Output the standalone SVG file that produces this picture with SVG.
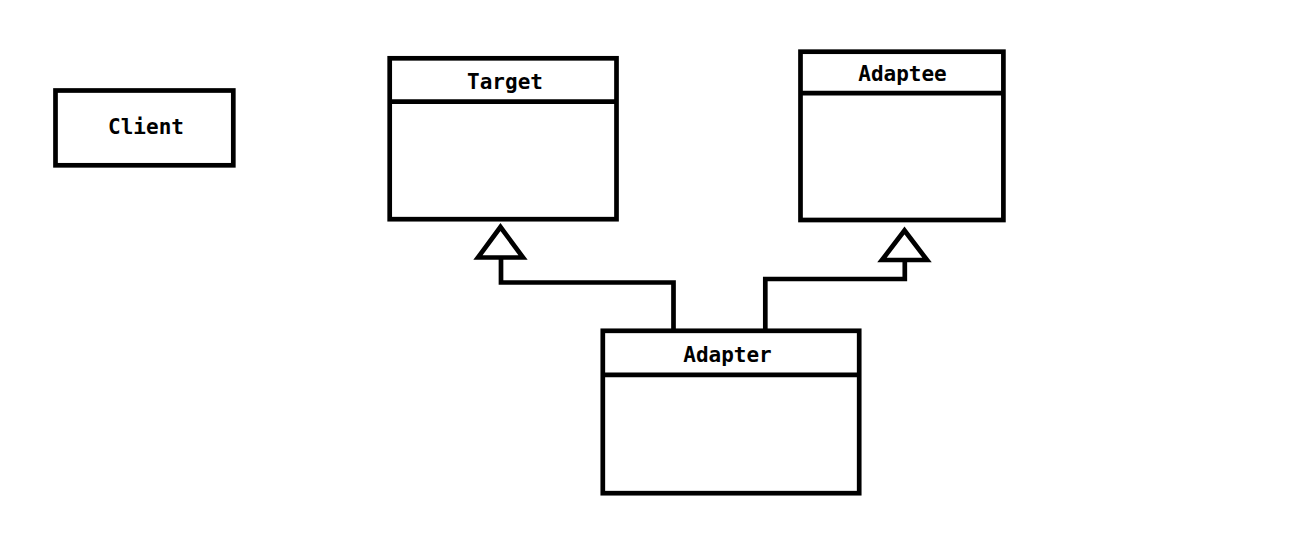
<svg xmlns="http://www.w3.org/2000/svg" width="1310" height="533" viewBox="0 0 1310 533">
<style>
.box{fill:#fff;stroke:#000;stroke-width:4.7}
.div{stroke:#000;stroke-width:4.7}
.lbl{font-family:"DejaVu Sans Mono","Liberation Mono",monospace;font-weight:bold;font-size:21px;text-anchor:middle;fill:#000}
.conn{fill:none;stroke:#000;stroke-width:4.7;stroke-linejoin:miter}
.tri{fill:#fff;stroke:#000;stroke-width:4.7;stroke-linejoin:miter}
</style>
<rect width="1310" height="533" fill="#fff"/>
<g id="client">
<rect class="box" x="55.5" y="90.5" width="177.8" height="74.8"/>
<text class="lbl" x="146" y="134">Client</text>
</g>
<g id="target">
<rect class="box" x="389.7" y="58.3" width="226.8" height="160.9"/>
<line class="div" x1="389.7" y1="101.7" x2="616.5" y2="101.7"/>
<text class="lbl" x="505" y="89">Target</text>
</g>
<g id="adaptee">
<rect class="box" x="800.5" y="51.7" width="202.9" height="168.3"/>
<line class="div" x1="800.5" y1="93.2" x2="1003.4" y2="93.2"/>
<text class="lbl" x="902.5" y="81">Adaptee</text>
</g>
<g id="adapter">
<rect class="box" x="602.8" y="330.8" width="256.4" height="162.4"/>
<line class="div" x1="602.8" y1="374.8" x2="859.2" y2="374.8"/>
<text class="lbl" x="727.5" y="362">Adapter</text>
</g>
<g id="connectors">
<polyline class="conn" points="673.5,330.8 673.5,282.5 501,282.5 501,257.5"/>
<polygon class="tri" points="500.5,227 478,257.5 523,257.5"/>
<polyline class="conn" points="765.3,330.8 765.3,279 904.8,279 904.8,260"/>
<polygon class="tri" points="904.5,230.5 882,260 927,260"/>
</g>
</svg>
